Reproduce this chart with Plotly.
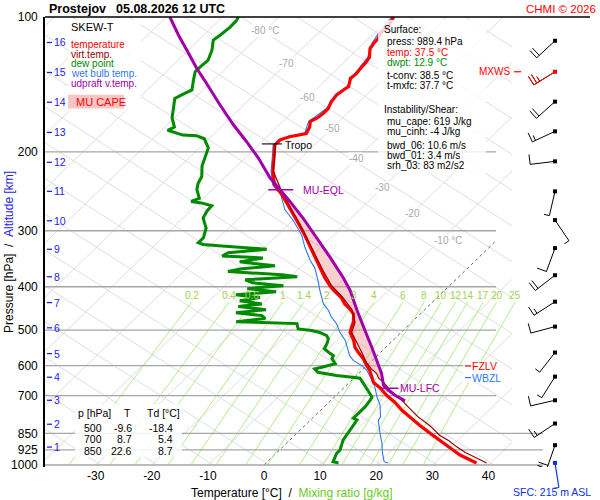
import numpy as np
import plotly.graph_objects as go

# --- Prostejov 05.08.2026 12 UTC ---
station = "Prostejov"
run_time = "05.08.2026 12 UTC"

pres_t = [989.4, 975, 950, 921, 888, 850, 815, 786, 755, 726, 699, 673, 653, 636,
          615, 600, 579, 560, 546, 527, 506, 493, 480, 460, 449, 437, 423, 408,
          398, 382, 369, 353, 327, 303, 288, 264, 249, 237, 221, 203, 193, 188,
          185, 182, 176, 171, 168, 164, 160, 154.5, 149, 145.5, 143, 137, 134,
          129, 126, 123, 117.6, 114.6, 111.7, 108.9, 105.3, 100]
temp = [37.5, 35.8, 33.1, 30.5, 27.4, 23.8, 20.4, 17.5, 14.5, 11.9, 9.0, 6.5, 4.2, 3.0,
        1.4, 0.0, -1.9, -4.0, -5.5, -7.0, -9.1, -9.8, -10.4, -11.9, -13.4, -15.3, -17.1, -19.7,
        -21.3, -23.7, -25.5, -27.9, -31.9, -35.8, -38.6, -43.4, -46.7, -49.8, -52.6, -55.4, -57.1, -57.1,
        -56.0, -53.6, -54.2, -55.1, -54.5, -54.3, -54.3, -55.0, -55.3, -55.0, -54.7, -55.9, -55.7,
        -56.0, -56.1, -56.4, -57.9, -58.2, -58.3, -58.9, -58.7, -59.5]

pres_tv = [989.4, 966, 938, 911, 884, 858, 820, 781, 748, 723, 711, 681, 653, 641, 625, 610, 590,
           560, 527, 506, 480, 449, 423, 398, 369, 327, 288, 249, 221, 203, 193]
tvirt = [39.3, 36.7, 33.6, 31.0, 28.6, 25.8, 22.6, 18.6, 15.6, 13.3, 12.0, 8.7, 6.0, 4.5, 3.2, 1.4, -0.7,
         -3.4, -6.6, -8.8, -10.1, -13.1, -16.8, -21.0, -25.2, -31.6, -38.4, -46.5, -52.5, -55.3, -57.0]

pres_td = [989.4, 983, 942, 926, 880, 836, 794, 786, 767, 742, 717, 705, 675, 647, 640,
           636, 631, 621, 610, 605, 594, 579, 570, 560, 550, 537, 523, 514, 506, 501,
           497, 483.5, 478.6, 471, 464, 457, 450, 443, 437, 430, 423, 417, 410.5, 404, 398,
           392, 386, 380, 376, 370, 365, 359, 352, 345, 341.5, 336, 330, 324, 322, 319,
           311, 296, 281, 271, 264, 260, 258, 254, 242.5, 235, 227, 215, 206.5, 196, 187,
           184, 183.5, 179, 176, 168, 160, 152, 149, 145.5, 139.5, 132.5, 129, 125, 118.5, 112.6,
           109.8, 105.3, 101.7, 100]
dewp = [12.9, 11.7, 10.8, 10.8, 9.5, 8.9, 8.3, 7.3, 7.3, 7.3, 7.0, 6.7, 4.2, 1.8, 1.1,
        -0.9, -3.6, -7.5, -8.7, -7.7, -6.0, -7.5, -7.8, -9.3, -10.7, -11.1, -11.8, -12.7, -14.5, -16.3,
        -19.0, -20.2, -31.4, -26.8, -27.9, -33.1, -28.3, -33.8, -30.1, -34.6, -31.6, -36.4, -29.8, -35.5, -29.6,
        -35.6, -37.5, -28.8, -31.9, -42.1, -40.4, -34.8, -41.8, -38.4, -46.0, -45.5, -39.3, -48.5, -51.5, -52.7,
        -52.7, -54.0, -56.4, -57.0, -57.1, -59.5, -61.6, -60.7, -62.8, -63.7, -64.3, -66.2, -67.2, -68.4, -70.8,
        -72.8, -75.3, -78.9, -78.3, -80.4, -81.9, -83.5, -82.9, -82.0, -83.3, -84.8, -84.8, -84.6, -85.8, -87.4,
        -87.1, -86.8, -86.9, -87.2]

pres_tw = [989.4, 983, 940, 894, 849, 794, 781, 736, 705, 670, 636, 615, 600, 584, 570, 555,
           527, 506, 484, 468, 452, 437, 423, 408, 391, 363, 350, 327, 306, 285, 269, 249,
           237, 221, 203, 193, 185, 182, 171, 160, 149, 143, 134, 123, 114.6, 108.9, 100]
wetb = [21.7, 20.8, 18.9, 17.0, 14.8, 12.1, 11.9, 9.7, 7.6, 5.4, 2.7, 0.9, -0.9, -3.4, -4.9, -6.1,
        -8.5, -10.9, -13.1, -15.2, -17.0, -19.1, -20.6, -22.2, -24.0, -27.3, -29.4, -32.8, -35.8, -39.8, -43.4, -46.9,
        -50.1, -52.9, -55.7, -57.4, -56.3, -53.9, -55.4, -54.6, -55.6, -55.0, -56.0, -56.7, -58.5, -59.2, -59.8]

pres_par = [719, 699, 681, 664, 625, 584, 546, 501, 452, 408, 382, 344, 311, 281, 258,
            242.5, 228.5, 206.5, 189.6, 174, 157, 140.7, 130.3, 118.5, 109.8, 100]
parcel = [13.3, 10.5, 8.4, 6.6, 4.1, 0.8, -2.5, -6.8, -11.9, -16.8, -20.4, -26.5, -32.5, -38.6, -44.0,
          -48.0, -51.9, -57.6, -62.8, -68.2, -74.3, -80.6, -85.1, -90.3, -94.5, -99.4]

# wind: level [hPa], direction [deg], speed [kt]
wind_p = [989.4, 903, 808, 717, 635, 561, 491, 432, 377, 328, 284, 245, 210, 180, 154.5, 132.5, 113]
wind_dir = [171, 199, 236, 257, 212, 218, 255, 237, 232, 200, 146, 193, 263, 245, 228, 238, 227]
wind_spd = [5, 20, 15, 10, 5, 5, 10, 15, 20, 10, 5, 5, 10, 15, 20, 25, 20]

# special levels [hPa]
p_tropo = 192
p_mu_eql = 243
p_mu_lfc = 674
p_fzlv = 601
p_wbzl = 638
p_mxws = 132.5

# info boxes
sfc_press, sfc_temp, sfc_dwpt = 989.4, 37.5, 12.9
t_conv, t_mxfc = 38.5, 37.7
mu_cape, mu_cinh = 619, -4
bwd_06, bwd_01, srh_03 = 10.6, 3.4, 83
sfc_height = 215
tab_p = [500, 700, 850]
tab_t = [-9.6, 8.7, 22.6]
tab_td = [-18.4, 5.4, 8.7]

# axes / grid
p_levels = [100, 200, 300, 400, 500, 600, 700, 850, 925, 1000]
t_ticks = [-30, -20, -10, 0, 10, 20, 30, 40]
km_p = [912, 811, 717, 637, 564, 494, 434, 380, 330, 285, 245, 211, 181, 155, 133, 114]
mix_ratio = [0.2, 0.4, 0.6, 1, 1.4, 2, 3, 4, 6, 8, 10, 12, 14, 17, 20, 25]
iso_lab_t = [-80, -70, -60, -50, -40, -30, -20, -10]
iso_lab_p = [107, 127, 151, 177, 207, 240, 274, 316]

# ---------------- geometry ----------------
FONT = "Arial, Liberation Sans, sans-serif"
W, H = 600, 500
L, R, T, B = 45, 10, 15, 33
PW, PH = W - L - R, H - T - B
X0, XPX = 264.0, 5.61               # pixel of 0 degC at 1000 hPa, pixels per degC
SKEW = 1.03 * 450 / XPX             # degC shift per decade of pressure


def sx(t, p):
    return np.asarray(t, float) + SKEW * np.log10(1000.0 / np.asarray(p, float))


def px_x(px):
    return (px - X0) / XPX


def p_py(p):
    return T + 450 * np.log10(p / 100.0)


def py_p(py):
    return 100 * 10 ** ((py - T) / 450.0)


def paper(px, py):
    return (px - L) / PW, (H - B - py) / PH


fig = go.Figure()


def add_path(xs, ys, color, width, dash="solid"):
    fig.add_trace(go.Scatter(x=xs, y=ys, mode="lines", hoverinfo="skip", showlegend=False,
                             line=dict(color=color, width=width, dash=dash)))


ann, shapes = [], []


def text_px(s, px, py, color="black", size=10, xanchor="left", **kw):
    xp, yp = paper(px, py)
    ann.append(dict(text=s, x=xp, y=yp, xref="paper", yref="paper", xanchor=xanchor,
                    yanchor="middle", showarrow=False, borderpad=0,
                    font=dict(size=size, color=color, family=FONT), **kw))


def text_data(s, x, p, color="black", size=10, xanchor="left", **kw):
    ann.append(dict(text=s, x=x, y=np.log10(p), xref="x", yref="y", xanchor=xanchor,
                    yanchor="middle", showarrow=False, borderpad=0,
                    font=dict(size=size, color=color, family=FONT), **kw))


def rect_px(x0, y0, x1, y1, fill):
    a, b = paper(x0, y1), paper(x1, y0)
    shapes.append(dict(type="rect", xref="paper", yref="paper", x0=a[0], y0=a[1], x1=b[0], y1=b[1],
                       fillcolor=fill, line=dict(width=0), layer="above"))


def line_px(x0, y0, x1, y1, color, width=1.0):
    a, b = paper(x0, y0), paper(x1, y1)
    shapes.append(dict(type="line", xref="paper", yref="paper", x0=a[0], y0=a[1], x1=b[0], y1=b[1],
                       line=dict(color=color, width=width), layer="above"))


# ---------------- background grid ----------------
xmax_grid = px_x(512)
gx, gy = [], []
for t in range(-130, 51, 10):
    if t == 0 or t >= xmax_grid:
        continue
    p_top = max(100.0, 1000.0 / 10 ** ((xmax_grid - t) / SKEW))
    ps = np.array([1000.0, p_top])
    gx += list(sx(t, ps)) + [None]
    gy += list(ps) + [None]
# second family of light lines running down to the right
S2 = 1.56 * 450 / XPX
for c in np.arange(px_x(550) - 90, px_x(550) + 130, 10):
    l0 = max(0.0, (c - xmax_grid) / S2)
    if l0 >= 1:
        continue
    ls = np.array([l0, 1.0])
    gx += list(c - S2 * ls) + [None]
    gy += list(1000.0 / 10 ** ls) + [None]
add_path(gx, gy, "#dadada", 0.9)

# 0 degC isotherm
p0_top = 1000.0 / 10 ** (px_x(496) / SKEW)
add_path(list(sx(0, [1000, p0_top])), [1000, p0_top], "#555555", 0.9, "dot")

# mixing ratio lines
mr_top = 433.0
mx, my = [], []
for w in mix_ratio:
    ps = np.geomspace(1000, mr_top, 14)
    e = w * ps / (622 + w)
    lr = np.log(e / 6.112)
    td = 243.5 * lr / (17.67 - lr)
    mx += list(sx(td, ps)) + [None]
    my += list(ps) + [None]
    text_data(f"{w:g}", float(sx(td[-1], mr_top)), mr_top, color="#a0d250", size=10,
              xanchor="center", yshift=7)
add_path(mx, my, "#a9ea84", 0.9)

# isobars
hx, hy = [], []
for p in p_levels[1:]:
    right = 543 if p >= 850 else 496
    hx += [px_x(L), px_x(right), None]
    hy += [p, p, None]
add_path(hx, hy, "#a6a6a6", 1.3)

# isotherm labels
for t, p in zip(iso_lab_t, iso_lab_p):
    s = f"{t} °C" if t in (-80, -10) else f"{t}"
    text_data(s, float(sx(t, p)), p, color="#a8a8a8", size=10, xanchor="center",
              xshift=8 if t == -10 else 0, bgcolor="white")

# ---------------- sounding ----------------
pp, pt = np.array(pres_par), np.array(parcel)
vp, vt = np.array(pres_tv), np.array(tvirt)
m1 = (pp <= p_mu_lfc) & (pp >= p_mu_eql - 1)
m2 = (vp <= p_mu_lfc) & (vp >= p_mu_eql - 1)
fx = np.concatenate([sx(pt[m1], pp[m1]), sx(vt[m2], vp[m2])[::-1]])
fy = np.concatenate([pp[m1], vp[m2][::-1]])
fig.add_trace(go.Scatter(x=fx, y=fy, mode="lines", fill="toself", fillcolor="rgba(240,140,140,0.42)",
                         line=dict(width=0), hoverinfo="skip", showlegend=False))

add_path(sx(wetb, pres_tw), pres_tw, "#2f78f0", 1.1)
add_path(sx(temp, pres_t), pres_t, "#ff0000", 3.2)
add_path(sx(tvirt, pres_tv), pres_tv, "#990000", 1.2)
add_path(sx(dewp, pres_td), pres_td, "#008a00", 3.0)
add_path(sx(parcel, pres_par), pres_par, "#a000a8", 3.0)

# ---------------- level markers ----------------
lp = np.log(pres_t[::-1])
x_trop = float(sx(np.interp(np.log(p_tropo), lp, temp[::-1]), p_tropo))
add_path([x_trop - 14 / XPX, x_trop + 6 / XPX], [p_tropo, p_tropo], "black", 1.1)
text_data("Tropo", x_trop + 8 / XPX, p_tropo, size=10.5, yshift=-1)

lpp = np.log(pres_par[::-1])
x_eql = float(sx(np.interp(np.log(p_mu_eql), lpp, parcel[::-1]), p_mu_eql))
add_path([x_eql - 12 / XPX, x_eql + 13 / XPX], [p_mu_eql, p_mu_eql], "#a000a8", 1.5)
text_data("MU-EQL", x_eql + 22 / XPX, p_mu_eql, color="#a000a8", size=10.5)
x_lfc = float(sx(np.interp(np.log(p_mu_lfc), lpp, parcel[::-1]), p_mu_lfc))
add_path([x_lfc - 6 / XPX, x_lfc + 12 / XPX], [p_mu_lfc, p_mu_lfc], "#a000a8", 1.5)
text_data("MU-LFC", x_lfc + 13 / XPX, p_mu_lfc, color="#a000a8", size=10.5)

# ---------------- wind barbs ----------------
BARB_X, STAFF = 555, 25


def barb(p, wdir, spd):
    x0, y0 = BARB_X, p_py(p)
    ux, uy = np.sin(np.radians(wdir)), -np.cos(np.radians(wdir))
    nx, ny = -uy, ux
    segs = [((x0, y0), (x0 + STAFF * ux, y0 + STAFF * uy))]
    d = STAFF
    for _ in range(int(spd // 10)):
        bx, by = x0 + d * ux, y0 + d * uy
        segs.append(((bx, by), (bx + 10 * nx, by + 10 * ny)))
        d -= 3.5
    if spd % 10 >= 5:
        bx, by = x0 + d * ux, y0 + d * uy
        segs.append(((bx, by), (bx + 5.5 * nx, by + 5.5 * ny)))
    return segs


def segs_to_xy(segs):
    xs, ys = [], []
    for (a, b) in segs:
        xs += [px_x(a[0]), px_x(b[0]), None]
        ys += [py_p(a[1]), py_p(b[1]), None]
    return xs, ys


bx_all, by_all = [], []
for p, d, s in zip(wind_p[1:], wind_dir[1:], wind_spd[1:]):
    xs, ys = segs_to_xy(barb(p, d, s))
    bx_all += xs
    by_all += ys
add_path(bx_all, by_all, "black", 1.0)
k = wind_p.index(p_mxws)
xs, ys = segs_to_xy(barb(wind_p[k], wind_dir[k], wind_spd[k]))
add_path(xs, ys, "#ff0000", 1.0)
fig.add_trace(go.Scatter(x=[px_x(BARB_X)] * (len(wind_p) - 1), y=wind_p[1:], mode="markers",
                         marker=dict(symbol="square", size=4,
                                     color=["#ff0000" if p == p_mxws else "black" for p in wind_p[1:]]),
                         hoverinfo="skip", showlegend=False))
# surface barb (reaches below the frame)
for (a, b) in barb(wind_p[0], wind_dir[0], wind_spd[0]):
    line_px(a[0], a[1], b[0], b[1], "#1030e0", 1.2)
rect_px(BARB_X - 2, p_py(wind_p[0]) - 2, BARB_X + 2, p_py(wind_p[0]) + 2, "#1030e0")

# altitude ticks
kx, ky = [], []
for i, p in enumerate(km_p):
    kx += [px_x(47), px_x(52), None]
    ky += [p, p, None]
    text_data(str(i + 1), px_x(53), p, color="#2222ee", size=10.5)
add_path(kx, ky, "#2222ee", 1.3)

# ---------------- boxes and texts ----------------
line_px(L, T, W - R, T, "black", 1.6)

rect_px(68, 18, 141, 110, "rgba(255,255,255,0.85)")
rect_px(68, 93, 124, 107, "#f9c6c6")
text_px("SKEW-T", 70, 25, size=11)
for i, (s, c) in enumerate([("temperature", "#ff0000"), ("virt.temp.", "#990000"),
                            ("dew point", "#008a00"), ("wet bulb temp.", "#2f78f0"),
                            ("udpraft v.temp.", "#a000a8")]):
    text_px(s, 70, 42.3 + 9.9 * i, color=c, size=10)
text_px("MU CAPE", 75, 100.5, color="#ff0000", size=11)

rect_px(378, 18, 486, 172, "rgba(255,255,255,0.8)")
info = [("Surface:", 383, 27.7, "black"),
        (f"press: {sfc_press} hPa", 386, 40, "black"),
        (f"temp: {sfc_temp} °C", 386, 50.5, "#ff0000"),
        (f"dwpt: {sfc_dwpt} °C", 386, 60.7, "#008a00"),
        (f"t-conv: {t_conv} °C", 386, 74, "black"),
        (f"t-mxfc: {t_mxfc} °C", 386, 84.3, "black"),
        ("Instability/Shear:", 383, 108.3, "black"),
        (f"mu_cape: {mu_cape} J/kg", 386, 120, "black"),
        (f"mu_cinh: {mu_cinh} J/kg", 386, 130, "black"),
        (f"bwd_06: {bwd_06} m/s", 386, 144.3, "black"),
        (f"bwd_01: {bwd_01} m/s", 386, 154.3, "black"),
        (f"srh_03: {srh_03} m2/s2", 386, 164.3, "black")]
for s, x, y, c in info:
    text_px(s, x, y, color=c, size=10)

rect_px(75, 404, 182, 457, "rgba(255,255,255,0.85)")
text_px("p [hPa]", 77, 413, size=10.5)
text_px("T", 127, 413, size=10.5, xanchor="center")
text_px("Td [°C]", 146, 413, size=10.5)
for i, (p, t, td) in enumerate(zip(tab_p, tab_t, tab_td)):
    y = 428 + 11.3 * i
    text_px(str(p), 103, y, size=10.5, xanchor="right")
    text_px(f"{t}", 133, y, size=10.5, xanchor="right")
    text_px(f"{td}", 174, y, size=10.5, xanchor="right")

# freezing / wet bulb zero, max wind
rect_px(463, p_py(p_fzlv) - 5, 499, p_py(p_wbzl) + 5, "rgba(255,255,255,0.9)")
line_px(465, p_py(p_fzlv), 471, p_py(p_fzlv), "#ff0000", 1.2)
text_px("FZLV", 471, p_py(p_fzlv), color="#ff0000", size=10.5)
line_px(465, p_py(p_wbzl), 471, p_py(p_wbzl), "#2f78f0", 1.2)
text_px("WBZL", 471, p_py(p_wbzl), color="#2f78f0", size=10.5)
text_px("MXWS", 511, p_py(p_mxws), color="#ff0000", size=10, xanchor="right")
line_px(514, p_py(p_mxws), 521, p_py(p_mxws), "#ff0000", 1.2)

# titles
text_px(f"<b>{station}</b>", 48, 7, size=12.5)
text_px(f"<b>{run_time}</b>", 115, 7, size=12.5)
text_px("CHMI © 2026", 597, 7, color="#ff0000", size=11.5, xanchor="right")
text_px("Temperature [°C]&nbsp;&nbsp;/&nbsp;&nbsp;<span style='color:#66cc22'>Mixing ratio [g/kg]</span>",
        292, 493, size=12, xanchor="center")
text_px("Pressure [hPa]&nbsp;&nbsp;/&nbsp;&nbsp;<span style='color:#2222ee'>Altitude [km]</span>",
        9, 251, size=12, xanchor="center", textangle=-90)
text_px(f"SFC: {sfc_height} m ASL", 512, 492, color="#1030e0", size=10.5)

fig.update_layout(
    width=W, height=H, margin=dict(l=L, r=R, t=T, b=B),
    paper_bgcolor="white", plot_bgcolor="white",
    font=dict(family=FONT, color="black"),
    showlegend=False, annotations=ann, shapes=shapes,
    xaxis=dict(range=[px_x(L), px_x(W - R)], showgrid=False, zeroline=False, showline=False,
               tickvals=t_ticks, ticktext=[str(t) for t in t_ticks], ticks="",
               tickfont=dict(size=12)),
    yaxis=dict(type="log", range=[3 + 2 / 450, 2], showgrid=False, zeroline=False,
               showline=True, linecolor="black", linewidth=1.6,
               tickvals=p_levels, ticktext=[str(p) for p in p_levels],
               ticks="outside", ticklen=3, tickcolor="rgba(0,0,0,0)", tickfont=dict(size=12)),
)

# the page body has a default 8px margin; drop it so the figure fills the window
fig.write_html("out.html", config={"displayModeBar": False},
               post_script="document.body.style.margin='0px';")
